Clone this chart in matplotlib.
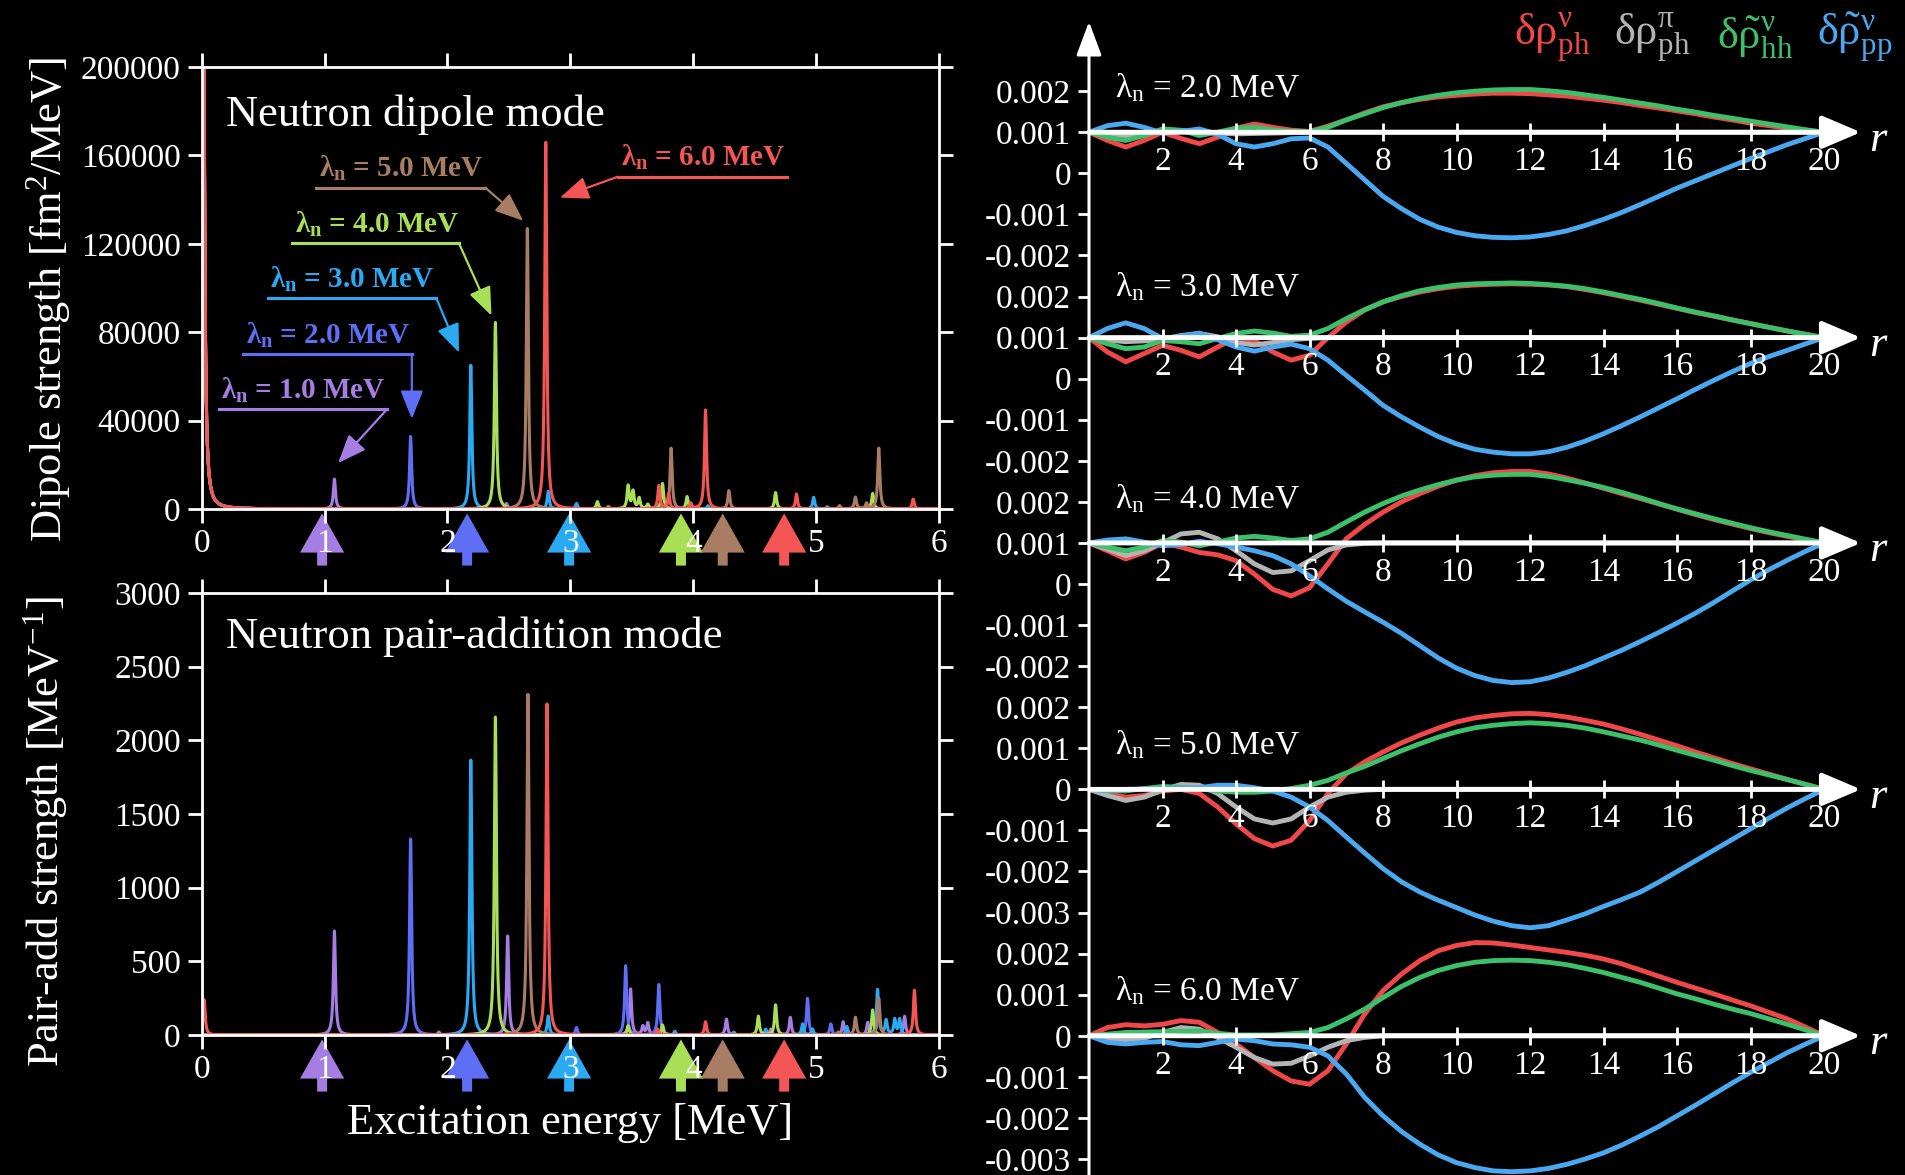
import numpy as np
import matplotlib.pyplot as plt

plt.rcParams['font.family'] = ['Liberation Serif', 'DejaVu Serif']
plt.rcParams['mathtext.fontset'] = 'custom'
plt.rcParams['mathtext.rm'] = 'Liberation Serif'
plt.rcParams['mathtext.it'] = 'Liberation Serif:italic'
plt.rcParams['mathtext.bf'] = 'Liberation Serif:bold'

# ---- left panels: strength functions (peak energy [MeV], peak height) ----
LAMBDAS = ['1.0', '2.0', '3.0', '4.0', '5.0', '6.0']
SPEC_COLORS = ['#a67de3', '#5f6ff5', '#2aaaf3', '#a9df57', '#a97d64', '#f45656']

DIP_E = [
    [0.01, 1.08, 2.48],
    [0.01, 1.70],
    [0.01, 2.19, 2.82, 3.05, 4.12, 4.98, 5.09],
    [0.01, 2.39, 3.22, 3.47, 3.51, 3.56, 3.63, 3.75, 3.95, 4.67, 5.46],
    [0.01, 2.65, 3.31, 3.82, 4.29, 5.19, 5.32, 5.41, 5.51],
    [0.01, 2.80, 3.72, 3.80, 3.98, 4.10, 4.84, 5.79],
]
DIP_S = [
    [412000, 13500, 2500],
    [412000, 32800],
    [412000, 65000, 8000, 2500, 1500, 5300, 1000],
    [412000, 84400, 3300, 10400, 7800, 4800, 2000, 11500, 5600, 7400, 7000],
    [412000, 126900, 1200, 27500, 8300, 1500, 5300, 2500, 27500],
    [412000, 165900, 10500, 6800, 2500, 44800, 6800, 4500],
]
PAIR_E = [
    [1.08, 1.93, 2.49, 3.49, 3.59, 3.63, 4.27, 4.63, 4.79, 5.22, 5.42, 5.72],
    [1.70, 3.05, 3.45, 3.72, 4.93, 5.12],
    [2.19, 2.82, 3.85, 4.33, 4.59, 4.89, 4.97, 5.25, 5.50, 5.57, 5.64, 5.68],
    [2.39, 3.47, 3.75, 4.53, 4.67, 5.46],
    [2.655, 5.18, 5.32, 5.51],
    [0.02, 2.81, 3.71, 4.10, 5.80],
]
PAIR_S = [
    [706, 20, 672, 312, 57, 81, 108, 40, 120, 90, 86, 127],
    [1330, 50, 470, 342, 249, 75],
    [1866, 129, 25, 20, 40, 75, 40, 57, 308, 97, 104, 104],
    [2158, 63, 68, 127, 204, 170],
    [2312, 20, 120, 249],
    [240, 2247, 40, 90, 305],
]
ARROW_E = [0.98, 2.16, 2.99, 3.90, 4.24, 4.74]
WIDTH = 0.01  # Lorentzian half width [MeV]

# label boxes in the dipole panel: underline x0, x1, y ; arrow start x ; arrow tip x, y
LAB_X0 = [0.137, 0.34, 0.536, 0.734, 0.934, 3.389]
LAB_X1 = [1.51, 1.71, 1.91, 2.092, 2.308, 4.767]
LAB_Y = [45240, 69980, 95350, 120400, 145400, 150400]
LAB_FROM = [1.51, 1.71, 1.91, 2.092, 2.308, 3.389]
TIP_X = [1.11, 1.71, 2.094, 2.358, 2.617, 2.916]
TIP_Y = [20770, 40770, 70790, 87500, 130400, 140900]

# ---- right panel: transition densities (units of 0.001, relative to each r axis) ----
R = [0, 0.5, 1, 1.5, 2, 2.5, 3, 3.5, 4, 4.5, 5, 5.5, 6, 6.5, 7, 7.5, 8, 8.5, 9, 9.5, 10,
     10.5, 11, 11.5, 12, 12.5, 13, 13.5, 14, 14.5, 15, 15.5, 16, 16.5, 17, 17.5, 18, 18.5, 19, 19.5, 20]
PANEL_LAMBDA = ['2.0', '3.0', '4.0', '5.0', '6.0']
RHO_PH_N = [
    [0, -0.2, -0.36, -0.2, 0.0, -0.15, -0.28, -0.12, 0.1, 0.2, 0.12, 0.05, 0.02, 0.15, 0.3, 0.47,
     0.62, 0.72, 0.8, 0.86, 0.9, 0.93, 0.95, 0.95, 0.94, 0.91, 0.88, 0.83, 0.78, 0.72, 0.65, 0.59,
     0.52, 0.45, 0.37, 0.3, 0.22, 0.16, 0.1, 0.05, 0],
    [0, -0.35, -0.59, -0.39, -0.19, -0.31, -0.47, -0.23, 0.0, -0.07, -0.35, -0.55, -0.43, 0.0, 0.38, 0.67,
     0.87, 1.0, 1.11, 1.19, 1.25, 1.28, 1.3, 1.31, 1.3, 1.28, 1.24, 1.17, 1.09, 1.0, 0.91, 0.81,
     0.71, 0.61, 0.52, 0.43, 0.34, 0.25, 0.16, 0.08, 0],
    [0, -0.19, -0.39, -0.23, 0.0, -0.1, -0.23, -0.29, -0.43, -0.76, -1.13, -1.29, -1.09, -0.51, 0.1, 0.45,
     0.75, 1.0, 1.2, 1.38, 1.53, 1.64, 1.71, 1.74, 1.74, 1.68, 1.58, 1.46, 1.33, 1.2, 1.08, 0.95,
     0.82, 0.69, 0.57, 0.46, 0.35, 0.25, 0.16, 0.08, 0],
    [0, -0.1, -0.19, -0.15, -0.04, 0.0, -0.1, -0.43, -0.84, -1.2, -1.38, -1.24, -0.76, -0.1, 0.38, 0.67,
     0.91, 1.13, 1.32, 1.49, 1.64, 1.74, 1.8, 1.84, 1.85, 1.82, 1.76, 1.68, 1.59, 1.47, 1.34, 1.2,
     1.06, 0.91, 0.77, 0.63, 0.5, 0.37, 0.24, 0.12, 0],
    [0, 0.2, 0.27, 0.24, 0.28, 0.37, 0.33, 0.08, -0.2, -0.53, -0.85, -1.1, -1.18, -0.85, -0.2, 0.53,
     1.1, 1.5, 1.83, 2.07, 2.2, 2.27, 2.26, 2.21, 2.15, 2.09, 2.03, 1.96, 1.87, 1.75, 1.6, 1.45,
     1.3, 1.16, 1.02, 0.87, 0.73, 0.57, 0.41, 0.21, 0],
]
RHO_PH_P = [
    [0, -0.05, -0.08, -0.04, 0.02, 0.04, 0.02, -0.02, -0.04, -0.03, -0.02, -0.01, 0, 0, 0, 0] + [0] * 25,
    [0, -0.06, -0.1, -0.08, -0.04, 0.05, 0.1, 0.02, -0.12, -0.18, -0.12, -0.05, -0.02, 0, 0, 0] + [0] * 25,
    [0, -0.15, -0.31, -0.19, 0.0, 0.22, 0.26, 0.1, -0.19, -0.51, -0.72, -0.68, -0.43, -0.17, -0.05, -0.01] + [0] * 25,
    [0, -0.15, -0.27, -0.19, -0.02, 0.12, 0.1, -0.1, -0.43, -0.72, -0.82, -0.72, -0.43, -0.19, -0.07, -0.02] + [0] * 25,
    [0, -0.08, -0.1, -0.06, 0.08, 0.2, 0.16, -0.04, -0.28, -0.53, -0.69, -0.67, -0.49, -0.28, -0.12, -0.04] + [0] * 25,
]
RHO_HH_N = [
    [0, -0.12, -0.2, -0.08, 0.08, 0.05, -0.08, 0.0, 0.1, 0.12, 0.06, 0.02, 0.02, 0.12, 0.3, 0.45,
     0.6, 0.72, 0.82, 0.9, 0.96, 1.0, 1.03, 1.04, 1.04, 1.01, 0.97, 0.91, 0.85, 0.78, 0.71, 0.64,
     0.56, 0.49, 0.41, 0.34, 0.27, 0.2, 0.13, 0.06, 0],
    [0, -0.15, -0.27, -0.23, -0.07, -0.1, -0.15, -0.02, 0.1, 0.16, 0.11, 0.03, 0.06, 0.22, 0.46, 0.68,
     0.87, 1.02, 1.14, 1.22, 1.28, 1.31, 1.32, 1.33, 1.32, 1.29, 1.25, 1.19, 1.11, 1.02, 0.93, 0.83,
     0.72, 0.62, 0.53, 0.43, 0.34, 0.25, 0.16, 0.08, 0],
    [0, -0.1, -0.19, -0.1, 0.06, 0.02, -0.07, 0.02, 0.12, 0.16, 0.12, 0.06, 0.1, 0.26, 0.51, 0.75,
     0.96, 1.14, 1.29, 1.42, 1.53, 1.61, 1.65, 1.67, 1.67, 1.62, 1.54, 1.45, 1.35, 1.23, 1.1, 0.96,
     0.83, 0.71, 0.59, 0.48, 0.37, 0.27, 0.18, 0.09, 0],
    [0, -0.03, -0.04, 0.02, 0.07, 0.05, 0.02, -0.04, -0.07, -0.07, -0.04, 0.02, 0.1, 0.22, 0.4, 0.56,
     0.75, 0.94, 1.11, 1.27, 1.4, 1.5, 1.56, 1.6, 1.62, 1.6, 1.56, 1.49, 1.4, 1.3, 1.2, 1.08,
     0.95, 0.83, 0.71, 0.58, 0.46, 0.35, 0.24, 0.12, 0],
    [0, 0.04, 0.08, 0.09, 0.1, 0.11, 0.12, 0.06, 0.02, 0.02, 0.02, 0.05, 0.08, 0.2, 0.41, 0.65,
     0.93, 1.2, 1.42, 1.59, 1.71, 1.79, 1.83, 1.84, 1.83, 1.79, 1.73, 1.64, 1.54, 1.42, 1.3, 1.16,
     1.02, 0.9, 0.77, 0.65, 0.54, 0.41, 0.28, 0.14, 0],
]
RHO_PP_N = [
    [0, 0.16, 0.22, 0.12, -0.02, 0.02, 0.08, -0.05, -0.28, -0.36, -0.28, -0.16, -0.14, -0.36, -0.76, -1.16,
     -1.56, -1.86, -2.12, -2.31, -2.44, -2.52, -2.56, -2.57, -2.55, -2.49, -2.4, -2.27, -2.12, -1.95, -1.76, -1.56,
     -1.36, -1.18, -1.0, -0.82, -0.64, -0.47, -0.3, -0.15, 0],
    [0, 0.22, 0.36, 0.22, -0.02, 0.03, 0.11, -0.05, -0.23, -0.33, -0.23, -0.16, -0.27, -0.55, -0.92, -1.28,
     -1.65, -1.93, -2.18, -2.41, -2.59, -2.72, -2.79, -2.83, -2.83, -2.78, -2.67, -2.52, -2.34, -2.14, -1.93, -1.71,
     -1.49, -1.26, -1.04, -0.83, -0.63, -0.46, -0.31, -0.15, 0],
    [0, 0.07, 0.1, 0.02, -0.07, -0.04, 0.04, -0.02, -0.1, -0.19, -0.31, -0.51, -0.8, -1.12, -1.42, -1.68,
     -1.93, -2.2, -2.5, -2.8, -3.05, -3.23, -3.35, -3.4, -3.38, -3.29, -3.15, -2.99, -2.8, -2.61, -2.4, -2.18,
     -1.95, -1.71, -1.45, -1.17, -0.9, -0.65, -0.42, -0.2, 0],
    [0, -0.02, 0.0, 0.01, 0.02, 0.03, 0.04, 0.1, 0.1, 0.04, -0.04, -0.19, -0.43, -0.76, -1.16, -1.55,
     -1.93, -2.25, -2.5, -2.7, -2.88, -3.06, -3.21, -3.32, -3.37, -3.32, -3.18, -3.03, -2.85, -2.68, -2.5, -2.26,
     -2.0, -1.74, -1.48, -1.22, -0.96, -0.7, -0.45, -0.22, 0],
    [0, -0.16, -0.2, -0.16, -0.14, -0.22, -0.24, -0.16, -0.08, -0.12, -0.2, -0.22, -0.28, -0.49, -0.93, -1.5,
     -1.95, -2.33, -2.64, -2.9, -3.09, -3.21, -3.29, -3.31, -3.29, -3.23, -3.13, -3.0, -2.85, -2.66, -2.44, -2.21,
     -1.95, -1.69, -1.42, -1.15, -0.89, -0.65, -0.41, -0.2, 0],
]
RHO_COLORS = ['#f04848', '#b4b4b4', '#3cc06a', '#4aa8f0']
RHO_LABELS = [r'$\mathrm{δρ}^{\mathrm{ν}}_{\mathrm{ph}}$', r'$\mathrm{δρ}^{\mathrm{π}}_{\mathrm{ph}}$',
              r'$\mathrm{δ}\tilde{\mathrm{ρ}}^{\mathrm{ν}}_{\mathrm{hh}}$',
              r'$\mathrm{δ}\tilde{\mathrm{ρ}}^{\mathrm{ν}}_{\mathrm{pp}}$']
BASES = [0, -5, -10, -16, -22]
LABEL_DY = [1.07, 1.24, 1.07, 1.09, 1.09]
TICK_REL = [[1, 0, -1, -2, -3]] * 3 + [[2, 1, 0, -1, -2, -3]] * 2
TICK_TXT = [['0.002', '0.001', '0', '-0.001', '-0.002']] * 3 + \
           [['0.002', '0.001', '0', '-0.001', '-0.002', '-0.003']] * 2
R_TICKS = [2, 4, 6, 8, 10, 12, 14, 16, 18, 20]

E = np.linspace(0, 6, 6001)


def spectrum(energies, heights):
    s = np.zeros_like(E)
    for e0, h in zip(energies, heights):
        s += h * WIDTH**2 / ((E - e0)**2 + WIDTH**2)
    return s


def style_left(ax):
    ax.set_facecolor('black')
    for sp in ax.spines.values():
        sp.set_color('white')
        sp.set_linewidth(2)
    ax.tick_params(direction='out', length=10, width=2, colors='white', labelsize=24,
                   top=True, right=True)
    ax.tick_params(axis='x', pad=4)
    ax.tick_params(axis='y', pad=5)
    ax.set_xlim(0, 6)
    ax.set_xticks(range(7))


def bottom_arrows(ax):
    for e, c in zip(ARROW_E, SPEC_COLORS):
        ax.annotate('', xy=(e, -0.01), xytext=(e, -0.128),
                    xycoords=('data', 'axes fraction'), textcoords=('data', 'axes fraction'),
                    arrowprops=dict(arrowstyle='simple,head_length=0.47,head_width=0.53,tail_width=0.12',
                                    color=c, lw=0, mutation_scale=60, shrinkA=0, shrinkB=0),
                    annotation_clip=False, zorder=1)


fig = plt.figure(figsize=(19.05, 11.75), dpi=100, facecolor='black')

# ---- dipole panel ----
ax1 = fig.add_axes([201.7 / 1905, 1 - 509 / 1175, 737.3 / 1905, 442 / 1175])
style_left(ax1)
for k in range(6):
    ax1.plot(E, spectrum(DIP_E[k], DIP_S[k]), color=SPEC_COLORS[k], lw=2.2, zorder=2)
ax1.set_ylim(0, 200000)
yt = list(range(0, 200001, 40000))
ax1.set_yticks(yt, [str(v) for v in yt])
ax1.text(0.2, 178500, 'Neutron dipole mode', color='white', fontsize=32, va='center')
ax1.set_ylabel('Dipole strength [fm$^2$/MeV]', color='white', fontsize=32)
ax1.yaxis.set_label_coords(-0.207, 0.475)
ax1.yaxis.label.set_va('center')
for k in range(6):
    c = SPEC_COLORS[k]
    ax1.plot([LAB_X0[k], LAB_X1[k]], [LAB_Y[k], LAB_Y[k]], color=c, lw=2.2)
    ax1.annotate('', xy=(TIP_X[k], TIP_Y[k]), xytext=(LAB_FROM[k], LAB_Y[k]),
                 arrowprops=dict(arrowstyle='-|>,head_length=0.7,head_width=0.28', color=c,
                                 lw=1.6, mutation_scale=25, shrinkA=0, shrinkB=0))
    ax1.annotate('λ$_\\mathbf{n}$ = ' + LAMBDAS[k] + ' MeV', xy=(LAB_X0[k], LAB_Y[k]),
                 xytext=(2, 3), textcoords='offset points', color=c, fontsize=21,
                 fontweight='bold', ha='left', va='bottom')
bottom_arrows(ax1)

# ---- pair-addition panel ----
ax2 = fig.add_axes([201.7 / 1905, 1 - 1035 / 1175, 737.3 / 1905, 442 / 1175])
style_left(ax2)
for k in range(6):
    ax2.plot(E, spectrum(PAIR_E[k], PAIR_S[k]), color=SPEC_COLORS[k], lw=2.2, zorder=2)
ax2.set_ylim(0, 3000)
ax2.set_yticks(range(0, 3001, 500))
ax2.text(0.2, 2700, 'Neutron pair-addition mode', color='white', fontsize=32, va='center')
ax2.set_ylabel('Pair-add strength [MeV$^{-1}$]', color='white', fontsize=32)
ax2.yaxis.set_label_coords(-0.211, 0.46)
ax2.yaxis.label.set_va('center')
ax2.set_xlabel('Excitation energy [MeV]', color='white', fontsize=32)
ax2.xaxis.set_label_coords(0.5, -0.2)
ax2.xaxis.label.set_va('center')
bottom_arrows(ax2)

# ---- transition densities ----
ax3 = fig.add_axes([1089 / 1905, 0, 1 - 1089 / 1905, 1])
ax3.set_facecolor('black')
ax3.set_xlim(0, 22.2)
ax3.set_ylim(-25.39, 3.22)
for sp in ax3.spines.values():
    sp.set_visible(False)
ax3.set_xticks([])

ypos, ylab = [], []
for k, base in enumerate(BASES):
    for rel, txt in zip(TICK_REL[k], TICK_TXT[k]):
        ypos.append(base + rel)
        ylab.append(txt)
ax3.set_yticks(ypos, ylab)
ax3.tick_params(axis='y', direction='out', length=8, width=2, colors='white', labelsize=24, pad=5)

for k, base in enumerate(BASES):
    for data, c in zip([RHO_PH_N, RHO_PH_P, RHO_HH_N, RHO_PP_N], RHO_COLORS):
        ax3.plot(R, np.array(data[k]) + base, color=c, lw=3.5, zorder=2, solid_capstyle='round',
                 solid_joinstyle='round')
    ax3.annotate('', xy=(21.0, base), xytext=(0, base),
                 arrowprops=dict(arrowstyle='-|>,head_length=0.4,head_width=0.17', color='white',
                                 lw=3.5, mutation_scale=60, shrinkA=0, shrinkB=0), zorder=3)
    ax3.vlines(R_TICKS, base - 0.22, base + 0.22, color='white', lw=2, zorder=3)
    for t in R_TICKS:
        ax3.text(t, base - 0.72, str(t), color='white', fontsize=24, ha='center', va='center')
    ax3.text(21.45, base - 0.18, 'r', color='white', fontsize=32, style='italic',
             ha='center', va='center')
    ax3.text(0.72, base + LABEL_DY[k], 'λ$_\\mathrm{n}$ = ' + PANEL_LAMBDA[k] + ' MeV',
             color='white', fontsize=24, va='center')

ax3.annotate('', xy=(0, 2.69), xytext=(0, -25.39),
             arrowprops=dict(arrowstyle='-|>,head_length=0.4,head_width=0.15', color='white',
                             lw=2.2, mutation_scale=52, shrinkA=0, shrinkB=0),
             annotation_clip=False, zorder=3)

for x, s, c in zip([1552, 1652, 1755, 1855], RHO_LABELS, RHO_COLORS):
    fig.text(x / 1905, 1 - 38 / 1175, s, color=c, fontsize=32, ha='center', va='center')

fig.savefig('out.png', dpi=100, facecolor='black')
